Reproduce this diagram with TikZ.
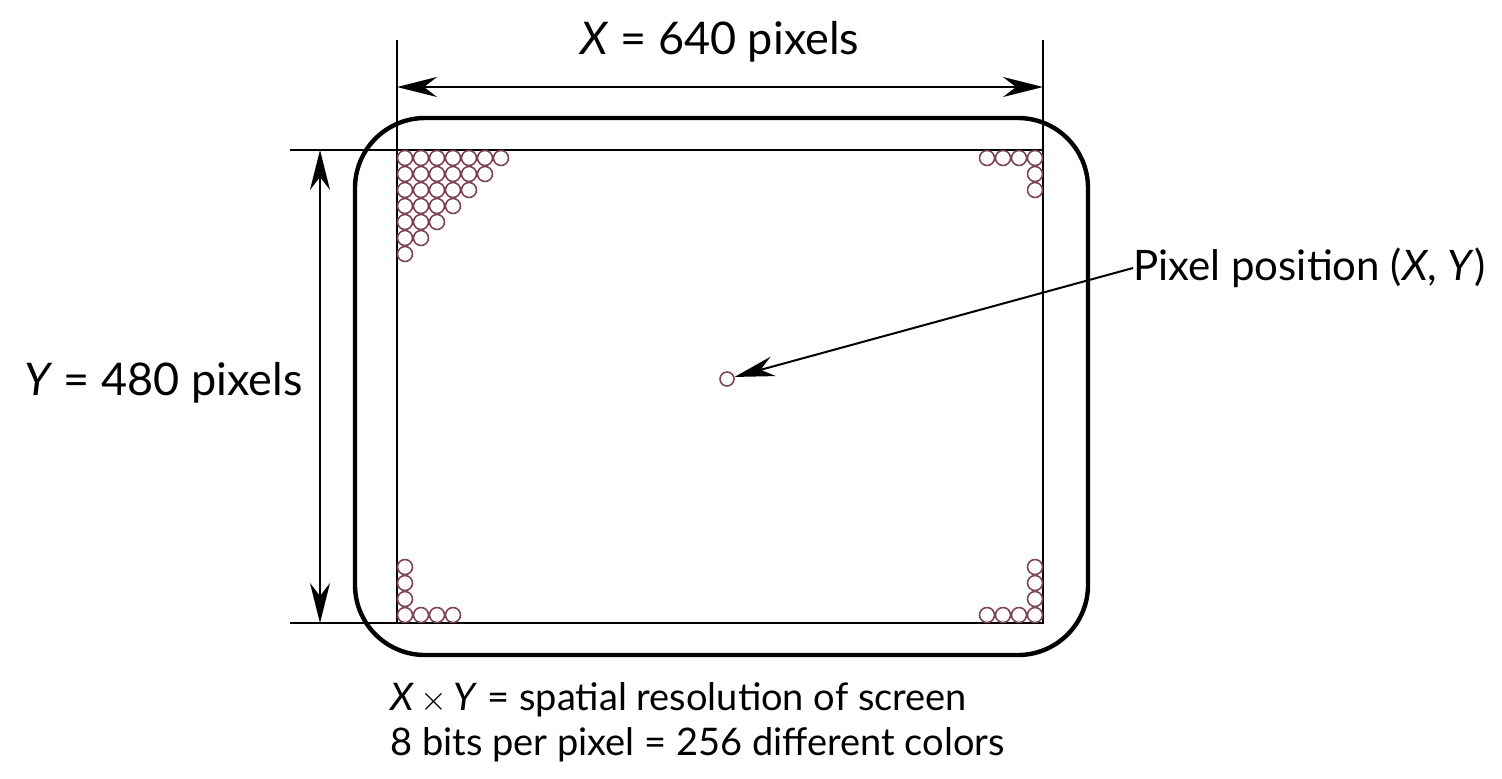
\documentclass[tikz,border=0pt]{standalone}
\usepackage{fontspec}
\setmainfont{Lato}
\usepackage{tikz}
\usetikzlibrary{arrows.meta}
\usetikzlibrary{positioning}
\definecolor{dotred}{RGB}{125,70,80}
\newcommand{\pitch}{16}
\tikzset{
  dimarrow/.style={line width=1pt, {Stealth[length=20pt,width=10pt]}-{Stealth[length=20pt,width=10pt]}},
  extline/.style={line width=0.7pt},
  pixeldot/.style={draw=dotred, line width=0.8pt},
  labeltext/.style={font=\fontsize{22.5}{27}\selectfont, inner sep=0pt},
  captext/.style={font=\fontsize{19}{23}\selectfont, inner sep=0pt}
}

\begin{document}
\begin{tikzpicture}[x=0.5pt, y=-0.5pt]
  \useasboundingbox (0,0) rectangle (1502,778);

  % Screen outline and active area
  \draw[line width=2.2pt, rounded corners=35pt] (355,118) rectangle (1088,655);
  \coordinate (tl) at (397,150);
  \coordinate (tr) at (1043,150);
  \coordinate (bl) at (397,623);
  \coordinate (br) at (1043,623);
  \draw[line width=1pt] (tl) rectangle (br);

  % Dimension lines
  \coordinate (xa) at (397,87);
  \coordinate (xb) at (1043,87);
  \draw[extline] (397,40) -- (tl);
  \draw[extline] (1043,40) -- (tr);
  \draw[dimarrow] (xa) -- (xb);
  \node[labeltext] (xlabel) at (720,42) {\textit{X} = 640 pixels};

  \coordinate (ya) at (320,150);
  \coordinate (yb) at (320,623);
  \draw[extline] (290,150) -- (tl);
  \draw[extline] (290,623) -- (bl);
  \draw[dimarrow] (ya) -- (yb);
  \node[labeltext, anchor=east] (ylabel) at (303,383) {\textit{Y} = 480 pixels};

  % Pixels in the corners
  \foreach \r in {0,...,6} {
    \pgfmathtruncatemacro{\last}{6-\r}
    \foreach \c in {0,...,\last}
      \draw[pixeldot] (405+\pitch*\c, 158+\pitch*\r) circle (7.5);
  }
  \foreach \c/\r in {0/0,1/0,2/0,3/0,0/1,0/2} {
    \draw[pixeldot] (1035-\pitch*\c, 158+\pitch*\r) circle (7.5);
  }
  \foreach \c/\r in {0/0,1/0,2/0,3/0,0/1,0/2,0/3} {
    \draw[pixeldot] (405+\pitch*\c, 615-\pitch*\r) circle (7.5);
    \draw[pixeldot] (1035-\pitch*\c, 615-\pitch*\r) circle (7.5);
  }

  % Single pixel
  \node[circle, draw=dotred, line width=0.8pt, minimum size=7pt, inner sep=0pt] (pix) at (727,379) {};
  \node[labeltext, font=\fontsize{21}{25}\selectfont, anchor=west] (poslabel) at (1133,268) {Pixel position (\textit{X}, \textit{Y})};
  \draw[line width=1pt, -{Stealth[length=20pt,width=10pt]}] (poslabel.west) -- (pix);

  % Caption
  \node[captext, anchor=west] (cap1) at (390,700) {\textit{X}\,$\times$\,\textit{Y} = spatial resolution of screen};
  \node[captext, anchor=west] (cap2) at (390,745) {8 bits per pixel = 256 different colors};

\end{tikzpicture}
\end{document}
